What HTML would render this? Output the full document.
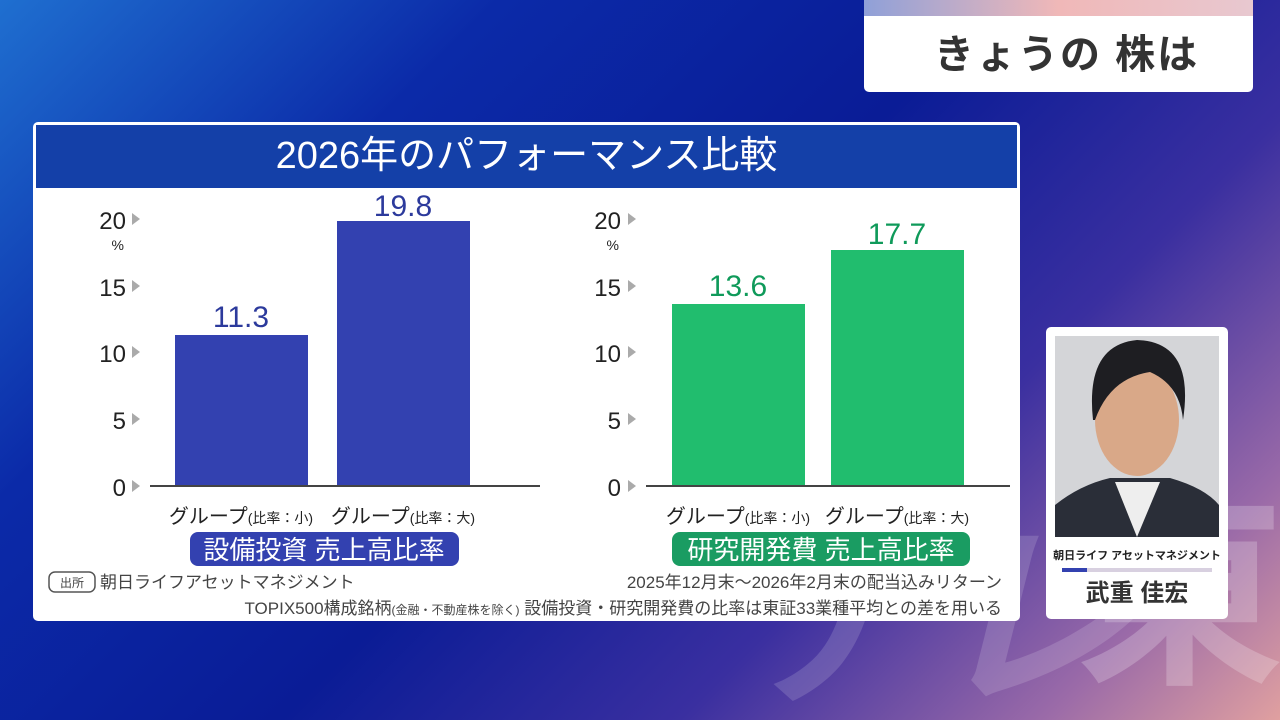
<!DOCTYPE html>
<html><head><meta charset="utf-8"><style>
*{margin:0;padding:0;box-sizing:border-box}
html,body{width:1280px;height:720px;overflow:hidden}
body{position:relative;font-family:"Liberation Sans","Noto Sans CJK JP",sans-serif;
background:linear-gradient(135deg,#1f6fd0 0%,#0b2aa8 25%,#0a1c96 50%,#3a2fa0 70%,#9a6aa8 88%,#e0a0a0 100%)}
.abs{position:absolute}
.t{position:absolute;white-space:nowrap}
</style></head><body>
<div class="abs" style="left:864px;top:0;width:389px;height:92px;background:#fff;border-radius:0 0 5px 5px;overflow:hidden">
<div style="height:16px;background:linear-gradient(90deg,#8fa0d8,#f0b8b8,#e8c8d0)"></div>
<div class="t" style="left:70px;top:22px;font-size:40px;font-weight:bold;color:#333;letter-spacing:2px">きょうの 株は</div>
</div>
<div class="t" style="left:1075px;top:470px;font-size:210px;line-height:250px;font-weight:bold;color:rgba(255,255,255,0.22)">東</div>
<div class="t" style="left:730px;top:500px;font-size:200px;line-height:240px;font-weight:bold;color:rgba(255,255,255,0.15);font-style:italic">テレ</div>

<div class="abs" style="left:33px;top:122px;width:987px;height:499px;background:#fff;border-radius:5px;overflow:hidden">
<div style="margin:3px;height:63px;background:#1440a8;color:#fff;font-size:38px;text-align:center;line-height:63px">2026年のパフォーマンス比較</div>
</div>
<svg class="abs" style="left:0;top:0" width="1280" height="720">
<g font-family="Liberation Sans,Noto Sans CJK JP,sans-serif" font-size="24" fill="#222" text-anchor="end">
<text x="126" y="229">20</text><text x="126" y="296">15</text><text x="126" y="362">10</text><text x="126" y="429">5</text><text x="126" y="496">0</text>
<text x="621" y="229">20</text><text x="621" y="296">15</text><text x="621" y="362">10</text><text x="621" y="429">5</text><text x="621" y="496">0</text>
<text x="124" y="250" font-size="14">%</text><text x="619" y="250" font-size="14">%</text>
</g>
<g fill="#aaa">
<path d="M132,213 l8,6 l-8,6z"/><path d="M132,280 l8,6 l-8,6z"/><path d="M132,346 l8,6 l-8,6z"/><path d="M132,413 l8,6 l-8,6z"/><path d="M132,480 l8,6 l-8,6z"/>
<path d="M628,213 l8,6 l-8,6z"/><path d="M628,280 l8,6 l-8,6z"/><path d="M628,346 l8,6 l-8,6z"/><path d="M628,413 l8,6 l-8,6z"/><path d="M628,480 l8,6 l-8,6z"/>
</g>
<rect x="175" y="335" width="133" height="151" fill="#3341b0"/>
<rect x="337" y="221" width="133" height="265" fill="#3341b0"/>
<rect x="672" y="304" width="133" height="182" fill="#21bd6e"/>
<rect x="831" y="250" width="133" height="236" fill="#21bd6e"/>
<line x1="150" y1="486" x2="540" y2="486" stroke="#444" stroke-width="2"/>
<line x1="646" y1="486" x2="1010" y2="486" stroke="#444" stroke-width="2"/>
<g font-family="Liberation Sans,sans-serif" font-size="30" text-anchor="middle">
<text x="241" y="327" fill="#2c3a9c">11.3</text><text x="403" y="216" fill="#2c3a9c">19.8</text>
<text x="738" y="296" fill="#0f9a5a">13.6</text><text x="897" y="244" fill="#0f9a5a">17.7</text>
</g>
<g font-family="Liberation Sans,Noto Sans CJK JP,sans-serif" font-size="20" fill="#222" text-anchor="middle">
<text x="241" y="523">グループ<tspan font-size="14">(比率：小)</tspan></text>
<text x="403" y="523">グループ<tspan font-size="14">(比率：大)</tspan></text>
<text x="738" y="523">グループ<tspan font-size="14">(比率：小)</tspan></text>
<text x="897" y="523">グループ<tspan font-size="14">(比率：大)</tspan></text>
</g>
<rect x="190" y="532" width="269" height="34" rx="8" fill="#3341b0"/>
<rect x="672" y="532" width="298" height="34" rx="8" fill="#1a9c62"/>
<g font-family="Liberation Sans,Noto Sans CJK JP,sans-serif" font-size="26" fill="#fff" text-anchor="middle">
<text x="324" y="559">設備投資 売上高比率</text><text x="821" y="559">研究開発費 売上高比率</text>
</g>
<rect x="49" y="572" width="46" height="20" rx="6" fill="none" stroke="#555" stroke-width="1.5"/>
<g font-family="Liberation Sans,Noto Sans CJK JP,sans-serif" fill="#444" font-size="17">
<text x="72" y="587" font-size="12" text-anchor="middle">出所</text>
<text x="100" y="588">朝日ライフアセットマネジメント</text>
<text x="1002" y="588" text-anchor="end">2025年12月末～2026年2月末の配当込みリターン</text>
<text x="1002" y="614" text-anchor="end">TOPIX500構成銘柄<tspan font-size="12">(金融・不動産株を除く)</tspan> 設備投資・研究開発費の比率は東証33業種平均との差を用いる</text>
</g>
<rect x="1046" y="327" width="182" height="292" rx="5" fill="#fff"/>
<rect x="1055" y="336" width="164" height="201" fill="#d4d5d8"/>
<path d="M1055,537 L1055,505 Q1080,485 1110,478 L1170,478 Q1205,488 1219,505 L1219,537z" fill="#2a2e38"/>
<path d="M1115,482 L1137,537 L1160,482z" fill="#eee"/>
<ellipse cx="1137" cy="420" rx="42" ry="56" fill="#d9a888"/>
<path d="M1093,420 Q1085,345 1137,340 Q1195,342 1183,420 Q1180,385 1150,372 Q1110,378 1095,420z" fill="#1e1e22"/>
<g font-family="Liberation Sans,Noto Sans CJK JP,sans-serif" fill="#222" text-anchor="middle">
<text x="1137" y="559" font-size="11" font-weight="bold">朝日ライフ アセットマネジメント</text>
<text x="1137" y="601" font-size="24" font-weight="bold" fill="#333">武重 佳宏</text>
</g>
<rect x="1062" y="568" width="150" height="4" fill="#d8d0e0"/><rect x="1062" y="568" width="25" height="4" fill="#3341b0"/>
</svg>
</body></html>
